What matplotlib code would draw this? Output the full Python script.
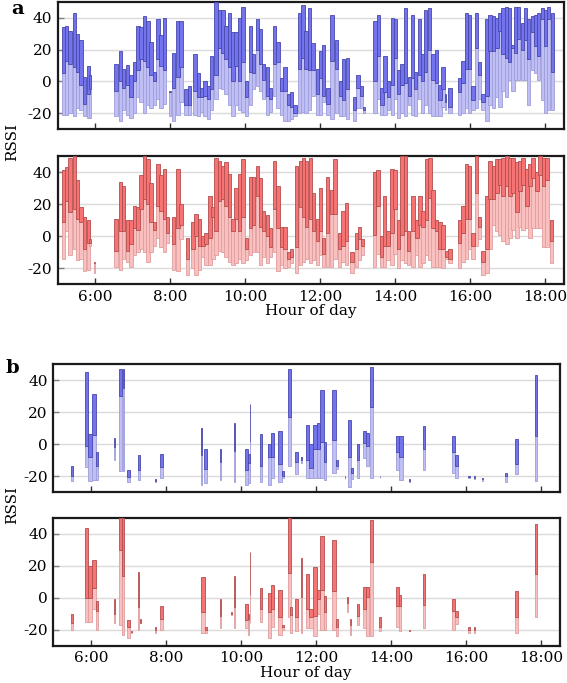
import matplotlib
matplotlib.use("Agg")
import matplotlib.pyplot as plt
import numpy as np

# ---------------- data ----------------
# panel a (top, blue): start minute since midnight, low, mid, high
a1_t = [307, 312, 317, 324, 329, 335, 340, 347, 351, 391, 398, 403, 409, 415, 420, 426, 431, 436, 442, 447,
        452, 458, 463, 468, 478, 483, 490, 495, 503, 508, 517, 523, 528, 533, 539, 544, 551, 556, 562, 567,
        572, 578, 583, 588, 594, 600, 606, 611, 617, 622, 627, 633, 638, 644, 650, 656, 661, 667, 672, 677,
        684, 690, 695, 700, 706, 713, 718, 723, 730, 736, 743, 750, 755, 761, 772, 778, 783, 788, 805, 811,
        816, 821, 827, 833, 838, 843, 848, 854, 860, 865, 870, 876, 881, 886, 892, 898, 903, 909, 914, 919,
        925, 940, 946, 951, 956, 962, 967, 972, 978, 984, 989, 995, 1000, 1005, 1010, 1015, 1020, 1026, 1030, 1035,
        1041, 1046, 1051, 1057, 1062, 1067, 1073, 1078, 1083, 1089]
a1_lo = [-21, -21, -20, -22, -17, -18, -22, -23, -23, -22, -25, -18, -21, -23, -20, -10, -13, -20, -15, -17,
         -15, -11, -17, -14, -22, -25, -21, -13, -21, -21, -21, -22, -19, -22, -24, -18, -11, -4, -5, -8,
         -15, -22, -15, -18, -19, -22, -15, -5, -3, -6, -11, -21, -19, -9, -17, -21, -25, -25, -24, -22,
         -20, -19, -20, -18, -9, -21, -21, -13, -21, -24, -20, -22, -22, -24, -25, -17, -17, -20, -20, -11,
         -21, -21, -18, -21, -11, -23, -20, -22, -15, -21, -22, -11, -20, -15, -20, -22, -22, -22, -16, -18,
         -20, -21, -20, -17, -20, -18, -17, -11, -18, -25, -15, -17, -10, -16, -6, -10, 1, -6, 1, 1,
         1, 1, -15, 7, 5, 1, -12, -20, -18, -18]
a1_mid = [5, 13, 11, 9, 6, -2, -14, -8, -5, -6, 0, -4, -2, -10, 0, 7, 14, 13, 9, 4,
          0, 14, 10, 7, -7, -4, 3, 9, -15, -15, -6, -10, -10, -9, -11, -5, 4, 21, 18, 14,
          9, 0, 10, 0, 12, -10, 6, 5, 20, 11, 1, -9, -11, 11, 12, -6, -6, -15, -16, -20,
          8, 15, 8, 7, 7, -8, 2, -9, -14, 13, 8, -9, -12, -5, -18, -4, -9, -18, 0, 16,
          -15, -7, -10, -2, 15, -8, -2, -1, -9, 2, -5, 4, 0, 6, 20, 1, -1, -12, -5, -13,
          -16, -7, -1, 8, 8, -12, 21, 4, -13, -9, 19, 19, 21, 32, 17, 15, 12, 21, 18, 27,
          20, 26, 14, 31, 22, 16, 39, 22, 39, 6]
a1_hi = [34, 35, 32, 43, 30, 26, 3, 10, 4, 11, 19, 8, 10, 4, 12, 35, 34, 41, 38, 25,
         6, 39, 29, 40, -6, 18, 38, 38, -5, -3, 17, 5, -4, 0, -3, 16, 50, 45, 45, 35,
         43, 31, 31, 40, 47, 0, 35, 17, 39, 33, 11, 9, -4, 35, 25, 2, 9, -8, -7, -15,
         43, 48, 32, 46, 24, 8, 19, 23, -4, 42, 26, 0, 14, 15, -10, 4, -3, -16, 38, 42,
         -4, 16, 0, 40, 39, 7, 11, 46, 3, 42, 6, 39, 17, 45, 46, 17, 20, -2, 9, -8,
         -4, 2, 13, 43, 42, -3, 43, 12, -8, 39, 42, 41, 40, 43, 46, 47, 46, 23, 47, 47,
         37, 46, 39, 41, 42, 43, 46, 45, 47, 43]

# panel a (bottom, red)
a2_t = [307, 312, 317, 324, 329, 335, 340, 347, 351, 358, 391, 398, 403, 409, 415, 420, 426, 431, 436, 442,
        447, 452, 458, 463, 468, 473, 483, 490, 495, 505, 514, 519, 524, 530, 535, 541, 546, 551, 556, 562,
        567, 572, 578, 583, 588, 594, 600, 606, 611, 617, 622, 627, 633, 638, 644, 650, 656, 661, 667, 672,
        680, 686, 691, 696, 702, 707, 713, 718, 723, 729, 735, 741, 748, 754, 759, 768, 775, 780, 785, 804,
        810, 815, 820, 826, 832, 837, 843, 848, 854, 859, 866, 872, 877, 882, 887, 893, 898, 903, 909, 914,
        920, 925, 940, 946, 951, 956, 962, 967, 972, 978, 984, 989, 995, 1000, 1005, 1010, 1016, 1021, 1026, 1032,
        1037, 1042, 1048, 1053, 1058, 1064, 1069, 1075, 1080, 1087]
a2_lo = [-14, 3, -12, -8, -15, -14, -22, -21, -6, -23, -19, -21, -14, -16, -19, -12, -10, -8, -10, -16,
         -10, -6, -1, -7, -10, -4, -21, -22, -2, -24, -20, -24, -21, -13, -18, -18, -14, -12, -9, -10,
         -13, -16, -18, -17, -14, -17, -15, -12, -10, -10, -18, -13, -17, -13, -10, -22, -18, -20, -19, -17,
         -23, -18, -16, -14, -17, -15, -18, -12, -19, -19, -19, -14, -19, -16, -18, -23, -19, -15, -12, -19,
         -11, -19, -19, -15, -18, -11, -20, -15, -17, -18, -19, -12, -19, -17, -12, -15, -19, -19, -19, -20,
         -14, -17, -20, -16, -14, -8, -14, -6, -2, -24, -23, -8, 7, 3, 1, -3, -5, -1, 4, -1,
         6, 4, 5, -1, 5, 5, 5, -7, -7, -17]
a2_mid = [9, 22, 15, 17, 11, 9, -8, -4, -4, -17, -9, 3, 3, -9, -5, 5, 4, 17, 23, 20,
          9, 4, 19, 16, 11, 2, -5, 5, 7, -14, -8, 0, -6, -6, -5, -1, 12, 3, 22, 23,
          19, 12, 3, 11, 3, 12, -8, 5, 7, 25, 6, 3, 0, -7, 17, 5, -7, -8, -14, -13,
          -7, 18, 12, 6, 11, 3, -3, 3, -11, 2, 14, 14, -8, -6, -3, -16, -8, -2, -6, 1,
          19, -13, -6, -6, 2, 17, -8, 1, 3, -9, 3, -1, 7, 6, 10, 24, 5, 3, -8, -8,
          -13, -14, -4, 2, 11, 11, -6, 27, 6, -16, -8, 23, 23, 27, 32, 25, 31, 25, 27, 15,
          28, 32, 19, 31, 36, 28, 38, 31, 35, -3]
a2_hi = [41, 43, 49, 50, 35, 18, 12, 10, -2, -16, 11, 34, 31, 10, 10, 19, 18, 38, 50, 48,
         33, 9, 45, 38, 42, 12, 12, 42, 20, -1, 9, 14, 11, 0, 2, 25, 18, 49, 47, 44,
         46, 39, 11, 30, 39, 48, -1, 37, 37, 44, 36, 16, 13, 5, 47, 31, 6, 6, -10, -8,
         44, 47, 49, 47, 49, 27, 11, 30, -1, 37, 29, 48, 2, 16, 21, -10, 2, 6, -2, 40,
         41, 0, 25, 3, 42, 41, 10, 50, 50, 3, 25, 10, 25, 16, 48, 49, 29, 10, 9, 7,
         -9, -8, 10, 19, 45, 44, 2, 50, 12, -9, 25, 47, 44, 48, 48, 49, 50, 49, 49, 46,
         47, 49, 42, 45, 49, 40, 50, 49, 49, 10]
a_width = 5.4  # minutes
a2_narrow = {351: 2.0, 358: 1.5}
a1_narrow = {351: 2.0, 478: 3.0, 788: 3.0, 919: 3.0}

# panel b (top, blue): start minute, width (min), low, mid, high
b1_t = [328, 351, 356, 362.7, 368, 397, 405, 411, 417.6, 435, 463, 471, 536, 541, 566, 589, 606, 611, 614, 631,
        643, 648.5, 660, 665.6, 675, 687, 696, 704.5, 709.8, 716, 721.6, 727, 733, 746.6, 752.5, 766, 771, 777, 786.6, 795,
        800.5, 806, 822, 848.5, 853.8, 869.3, 892, 938, 943.4, 964, 973, 985.6, 1023, 1039.4, 1071.4]
b1_w = [3.5, 5.3, 5.5, 5.3, 4, 1.5, 5.3, 2.5, 4.5, 4.5, 1.5, 5.3, 2.5, 4.5, 2, 2, 5.3, 3.5, 1.5, 3.5,
        5.3, 5.3, 5.3, 3.5, 5.5, 4.5, 2, 5.3, 5.3, 5.3, 5.3, 5.5, 3, 5.5, 3, 1.5, 5.5, 2, 2.5, 5.3,
        5.3, 5.3, 1.5, 5.3, 5.3, 1.5, 2, 5.3, 3.5, 2, 2, 1.5, 3, 4, 2]
b1_lo = [-23, -14.5, -23, -22.5, -22.5, -10, -17, -17, -24, -22.5, -24, -21, -25.5, -24.5, -22.5, -24, -25.5, -24.5, -17, -23.5,
         -25.5, -21, -23.5, -21, -13.5, -19, -12, -21, -21, -21, -21, -21, -22.5, -18, -15.5, -22, -27, -22, -21, -9,
         -14, -21, -21, -16, -22.5, -24, -16, -18, -21, -21, -22, -23, -24, -19, -23]
b1_mid = [-20, -1.5, -8, 5.5, -13.5, -2, 30, 35, -20.5, -16, -23, -14.5, -7, -15.5, -11, -4.5, -16, -12, 1, -13.5,
          -8, -8, -12.5, -20, 17, -11.5, -10, -10, -15, -3, -3, 1, -11.5, 2.7, -14, -21, -8, -18, -10, 0.6,
          -1, 23, -20.5, -5, -8, -23, -3, -5, -14, -20.5, -21, -22, -20, -12.5, 5]
b1_hi = [-13.5, 45, 6, 31, -5, 4, 47, 47, -16, -7, -22, -6, 10, -3, -3, 13, -3, -6, 25, 6,
         0, 7, 8, -17, 47, -5, -8, 12, 0, 12, 13, 34, 1, 34, -10, -20, 15, -15, 0, 8,
         7, 48, -20, 5, 5, -22, 11, 5, -7, -20, -20, -21, -18, 3, 43]

# panel b (bottom, red)
b2_t = [328, 351, 356, 362.7, 368, 397, 405, 410.6, 417.6, 424, 435, 439, 463, 471, 536, 543, 566, 584, 589, 606,
        611, 614, 631, 643, 648.5, 660, 665.6, 675, 679, 687, 696, 704.5, 709.8, 716, 721.6, 727, 733, 746.6, 752.5, 769.5,
        774.4, 786.6, 795, 800.5, 806, 821.3, 848.5, 853, 869.3, 892, 938, 943.4, 964, 973, 1039.4, 1071.4]
b2_w = [3.5, 5.3, 5.5, 5.3, 3, 1.5, 5.3, 2.5, 4.5, 1.5, 2.5, 1.5, 1.5, 5.3, 7, 2.5, 2, 1.5, 2, 5.3,
        2.5, 1.5, 3.5, 5.3, 5.3, 5.3, 3.5, 5.5, 2.5, 4.5, 2, 5.3, 5.3, 5.3, 5.3, 5.5, 3, 5.5, 3, 2,
        2.5, 2.5, 5.3, 5.3, 5.3, 3.5, 5.3, 3.5, 2, 2, 5.3, 4, 2, 2, 3.5, 2]
b2_lo = [-20, -15, -15, -7, -20, -16, -17, -23, -25, -22, -20, -16, -22, -20, -22, -22, -19, -11, -19, -19,
         -23, -16, -15, -25, -18, -23, -20, -12, -22, -21, -22, -19, -19, -24, -10, -20, -20, -20, -24, -9,
         -23, -17, -19, -24, -24, -21, -18, -21, -21, -19, -20, -16.5, -22, -22, -22, -12]
b2_mid = [-15.6, 0, 0, 6, -8, -10, 30, 13.5, -18, -21.5, -6, -15.5, -20, -13, -9, -20, -11.5, -10, -6, -14,
          -13, 2, -7, -9, -7, -12, -18.5, 15.6, -11, -12, 0.6, -7, -12, -11.5, -1, 5, -9, 4, -18, -3.5,
          -17, -11.5, -7, 0.6, 22.5, -18, -5, -5, -20.5, -4.6, -8, -12, -20, -20, -12, 15]
b2_hi = [-10, 44, 20, 24, -2, -1, 50, 50, -14, -21, 16, -13, -18, -5, 13, -18.5, -1, -9, 13.5, -4,
         -10, 29, 6, 3, 8, 5, -17, 50, -6, -1, 25, 15, -7, 19, 5, 39, 1, 36, -13, 0.6,
         -13, -4, 7, 6.5, 48.5, -12, 7, 2, -20, 15, -1, -8, -18, -18, 4, 46]

tick_hours = [6, 8, 10, 12, 14, 16, 18]
tick_labels = ["6:00", "8:00", "10:00", "12:00", "14:00", "16:00", "18:00"]
y_ticks = [-20, 0, 20, 40]

# ---------------- plotting ----------------
plt.rcParams['font.family'] = ['DejaVu Serif']
fig = plt.figure(figsize=(5.67, 6.83), dpi=100)
W, H = 567.0, 683.0

def make_ax(l, r, t, b):
    return fig.add_axes([l / W, 1 - b / H, (r - l) / W, (b - t) / H])

ax_a1 = make_ax(57.5, 564, 2, 129)
ax_a2 = make_ax(57.5, 564, 156, 284.3)
ax_b1 = make_ax(53.3, 559.5, 364, 492)
ax_b2 = make_ax(53.3, 559.5, 518, 645.7)

BLUE_D, BLUE_DE = (0.45, 0.45, 0.93), (0.28, 0.28, 0.68)
BLUE_L, BLUE_LE = (0.75, 0.75, 0.96), (0.62, 0.62, 0.86)
RED_D, RED_DE = (0.96, 0.45, 0.45), (0.70, 0.30, 0.30)
RED_L, RED_LE = (0.98, 0.75, 0.75), (0.88, 0.62, 0.62)

def draw(ax, t, w, lo, mid, hi, cd, cde, cl, cle):
    x = np.asarray(t, float) / 60.0
    w = np.asarray(w, float) / 60.0
    lo, mid, hi = map(np.asarray, (lo, mid, hi))
    ax.bar(x, mid - lo, bottom=lo, width=w, align='edge', color=cl, edgecolor=cle, linewidth=0.6, zorder=2)
    ax.bar(x, hi - mid, bottom=mid, width=w, align='edge', color=cd, edgecolor=cde, linewidth=0.6, zorder=3)

def style(ax, show_x):
    ax.set_xlim(5.0, 18.5)
    ax.set_ylim(-30, 50)
    ax.set_yticks(y_ticks)
    ax.set_yticklabels([str(v) for v in y_ticks])
    ax.set_xticks(tick_hours)
    if show_x:
        ax.set_xticklabels(tick_labels)
    else:
        ax.set_xticklabels([])
    ax.grid(axis='y', color='0.86', linewidth=1.0, zorder=0)
    ax.set_axisbelow(True)
    ax.tick_params(axis='x', direction='in', length=4, width=1, color='0.2', labelsize=11, pad=4)
    ax.tick_params(axis='y', direction='in', length=4, width=1, color='0.5', labelsize=11, pad=4)
    for s in ax.spines.values():
        s.set_linewidth(1.6)
        s.set_color('0.1')

wa1 = [a1_narrow.get(t, a_width) for t in a1_t]
wa2 = [a2_narrow.get(t, a_width) for t in a2_t]
draw(ax_a1, a1_t, wa1, a1_lo, a1_mid, a1_hi, BLUE_D, BLUE_DE, BLUE_L, BLUE_LE)
draw(ax_a2, a2_t, wa2, a2_lo, a2_mid, a2_hi, RED_D, RED_DE, RED_L, RED_LE)
draw(ax_b1, b1_t, b1_w, b1_lo, b1_mid, b1_hi, BLUE_D, BLUE_DE, BLUE_L, BLUE_LE)
draw(ax_b2, b2_t, b2_w, b2_lo, b2_mid, b2_hi, RED_D, RED_DE, RED_L, RED_LE)

style(ax_a1, False)
style(ax_a2, True)
style(ax_b1, False)
style(ax_b2, True)

fig.text(18 / W, 1 - 9 / H, "a", fontsize=14, fontweight='bold', ha='center', va='center')
fig.text(12 / W, 1 - 368 / H, "b", fontsize=14, fontweight='bold', ha='center', va='center')
fig.text(12 / W, 1 - 142 / H, "RSSI", fontsize=11, rotation=90, ha='center', va='center')
fig.text(12 / W, 1 - 505 / H, "RSSI", fontsize=11, rotation=90, ha='center', va='center')
fig.text(311 / W, 1 - 311 / H, "Hour of day", fontsize=11, ha='center', va='center')
fig.text(306 / W, 1 - 673 / H, "Hour of day", fontsize=11, ha='center', va='center')

fig.savefig("out.png", dpi=100)
